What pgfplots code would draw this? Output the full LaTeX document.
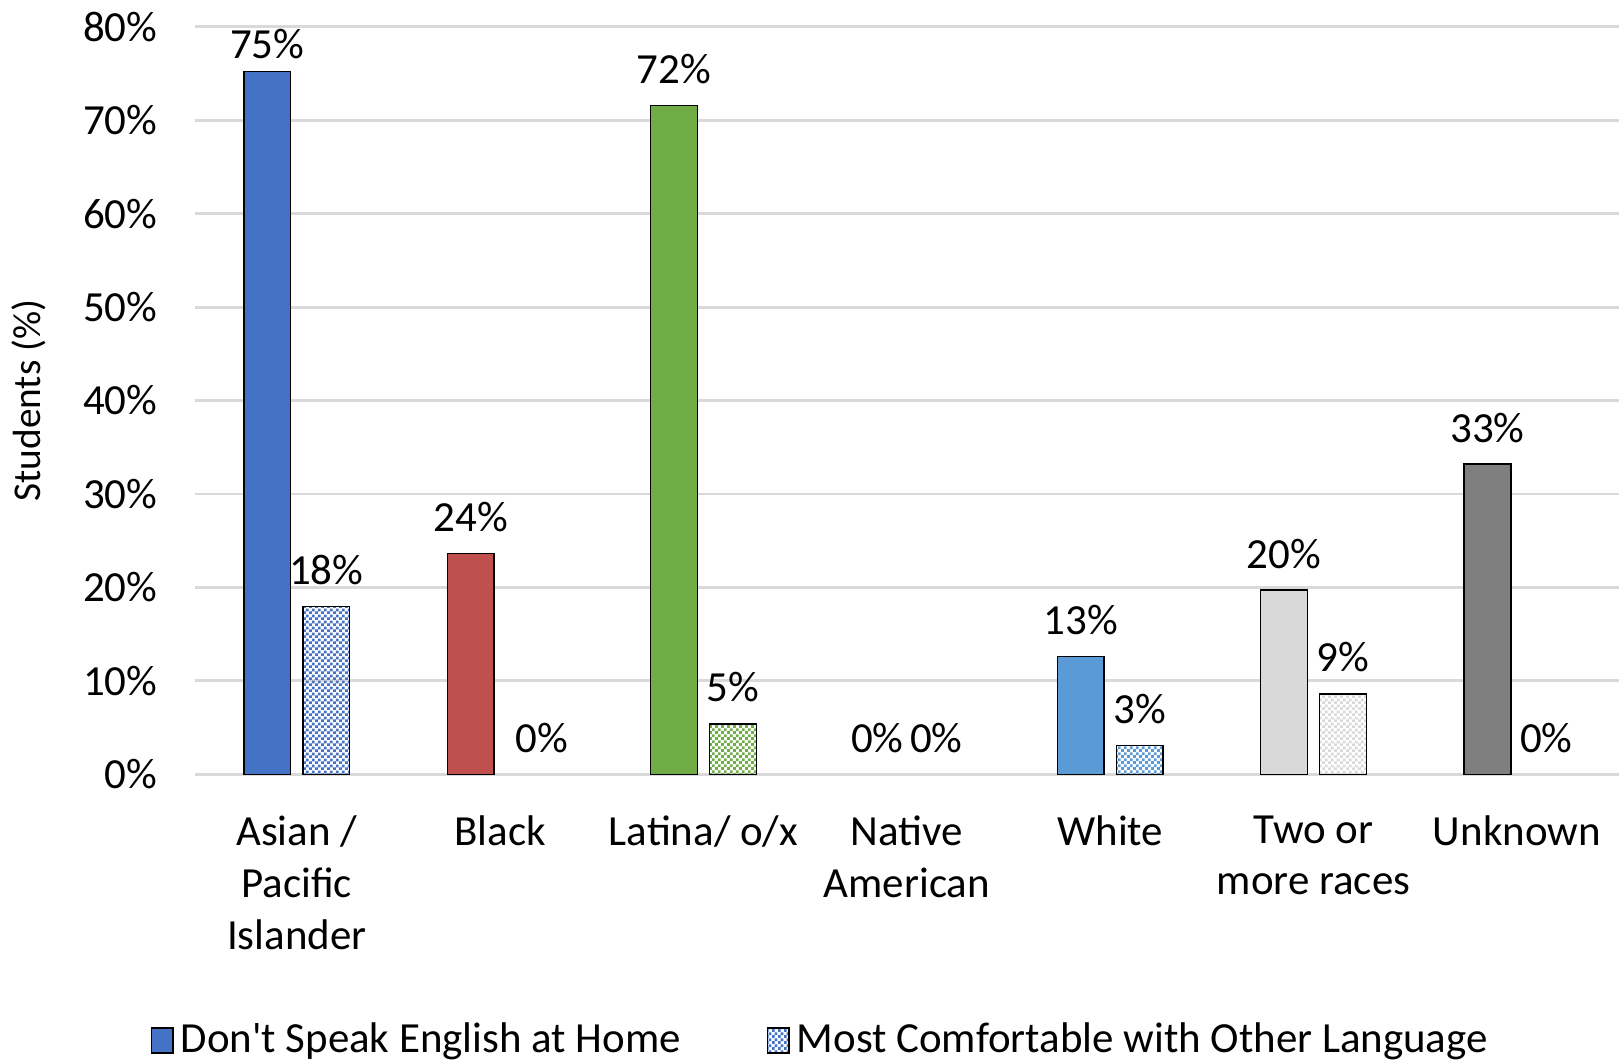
\documentclass[border=0pt]{standalone}
\usepackage{fontspec}
\setmainfont{Carlito}[Ligatures=TeXOff]
\usepackage{pgfplots}
\pgfplotsset{compat=1.18}
\usetikzlibrary{patterns}

\definecolor{cAsian}{HTML}{4472C4}
\definecolor{cBlack}{HTML}{C0504D}
\definecolor{cLatina}{HTML}{70AD47}
\definecolor{cWhite}{HTML}{5B9BD5}
\definecolor{cTwo}{HTML}{D9D9D9}
\definecolor{cUnknown}{HTML}{7F7F7F}
\definecolor{gridgray}{HTML}{D9D9D9}

% small checkerboard, like the office "dotted grid" fill
\pgfdeclarepatternformonly{checker}{\pgfpointorigin}{\pgfqpoint{1.6pt}{1.6pt}}{\pgfqpoint{1.6pt}{1.6pt}}{%
  \pgfpathrectangle{\pgfpointorigin}{\pgfqpoint{0.8pt}{0.8pt}}%
  \pgfpathrectangle{\pgfqpoint{0.8pt}{0.8pt}}{\pgfqpoint{0.8pt}{0.8pt}}%
  \pgfusepath{fill}}

\begin{document}
\begin{tikzpicture}
\begin{axis}[
 scale only axis,
 width=398pt,height=209pt,
 ybar,bar width=0.23,
 xmin=-0.5,xmax=6.5,ymin=0,ymax=80,
 xtick={0,...,6},
 xticklabels={Asian /\\Pacific\\Islander,Black,Latina/ o/x,Native\\American,White,Two or\\more races,Unknown},
 ytick={0,10,...,80},
 yticklabel={\pgfmathprintnumber{\tick}\%},
 /pgf/number format/assume math mode=true,
 major tick length=0pt,
 axis x line*=bottom,axis y line*=left,
 x axis line style={draw=gridgray,thick},
 y axis line style={draw=none},
 ymajorgrids,grid style={gridgray,thick},
 tick label style={font=\fontsize{12}{14.5}\selectfont},
 x tick label style={align=center,yshift=-8pt},
 y tick label style={xshift=-7pt},
 ylabel={Students (\%)},
 ylabel style={font=\fontsize{11}{13}\selectfont,yshift=3.5pt},
 nodes near coords={\pgfmathprintnumber[fixed,precision=0]{\pgfplotspointmeta}\%},
 every node near coord/.append style={font=\fontsize{12}{14}\selectfont,black,
   /pgf/number format/assume math mode=true,yshift=2.5pt},
 legend style={at={(0.441,-0.356)},anchor=center,draw=none,inner sep=0pt,
   legend columns=-1,font=\fontsize{12}{14}\selectfont,
   nodes={inner ysep=1pt},
   /tikz/every even column/.append style={column sep=22pt}},
 legend image code/.code={\draw[#1] (0pt,-3.5pt) rectangle (6pt,3.5pt);},
 zero/.style={forget plot,draw=none,fill=none},
]
\addlegendimage{fill=cAsian,draw=black}
\addlegendentry{Don't Speak English at Home}
\addlegendimage{pattern=checker,pattern color=cAsian,draw=black}
\addlegendentry{Most Comfortable with Other Language}

% Don't Speak English at Home
\addplot[forget plot,fill=cAsian,draw=black,bar shift=-0.145,
  every node near coord/.append style={yshift=-2.5pt}] coordinates {(0,75.2)};
\addplot[forget plot,fill=cBlack,draw=black,bar shift=-0.145] coordinates {(1,23.6)};
\addplot[forget plot,fill=cLatina,draw=black,bar shift=-0.145] coordinates {(2,71.6)};
\addplot[zero,bar shift=-0.145] coordinates {(3,0)};
\addplot[forget plot,fill=cWhite,draw=black,bar shift=-0.145] coordinates {(4,12.6)};
\addplot[forget plot,fill=cTwo,draw=black,bar shift=-0.145] coordinates {(5,19.7)};
\addplot[forget plot,fill=cUnknown,draw=black,bar shift=-0.145] coordinates {(6,33.2)};

% Most Comfortable with Other Language
\addplot[forget plot,pattern=checker,pattern color=cAsian,draw=black,bar shift=0.145] coordinates {(0,17.95)};
\addplot[zero,bar shift=0.205] coordinates {(1,0)};
\addplot[forget plot,pattern=checker,pattern color=cLatina,draw=black,bar shift=0.145] coordinates {(2,5.4)};
\addplot[zero,bar shift=0.145] coordinates {(3,0)};
\addplot[forget plot,pattern=checker,pattern color=cWhite,draw=black,bar shift=0.145] coordinates {(4,3.1)};
\addplot[forget plot,pattern=checker,pattern color=cTwo,draw=black,bar shift=0.145] coordinates {(5,8.6)};
\addplot[zero,bar shift=0.145] coordinates {(6,0)};
\end{axis}
\end{tikzpicture}
\end{document}
